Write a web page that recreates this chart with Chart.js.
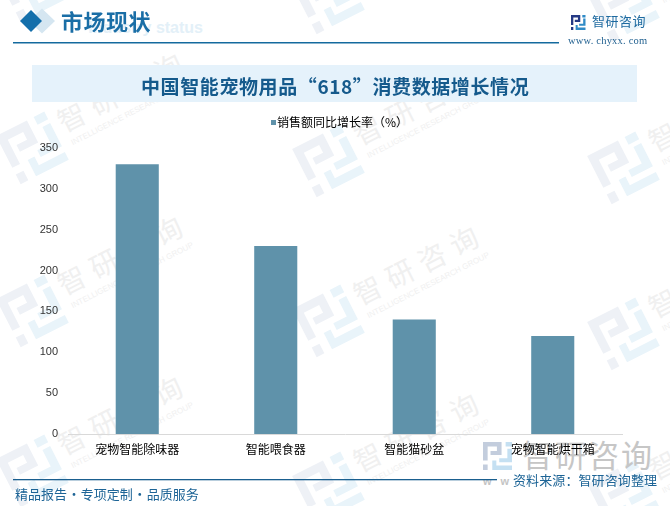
<!DOCTYPE html>
<html lang="zh"><head><meta charset="utf-8">
<script src="https://cdn.jsdelivr.net/npm/chart.js@4"></script>
<style>
html,body{margin:0;padding:0;background:#fff;}
#page{position:relative;width:670px;height:506px;overflow:hidden;background:#fff;font-family:"Noto Sans CJK SC",sans-serif;}
#page>*{position:absolute;}
#bg{left:0;top:0;}
#c{left:0;top:0;}
.t{white-space:nowrap;line-height:1;}
</style></head><body>
<div id="page">
<svg id="bg" width="670" height="506" xmlns="http://www.w3.org/2000/svg">
<defs>
<g id="logoA"><path d="M0 0H64V46H26V32H48V16H16V66H0ZM0 80H16V100H0Z"/></g>
<g id="logoB"><path d="M78 0H100V16H78ZM84 24H100V72H56V58H84ZM32 66H46V84H100V100H32Z"/></g>
</defs>
<g id="wm"></g>
<text x="203" y="33" text-anchor="end" font-family="Liberation Sans" font-weight="bold" font-size="16" fill="#e3f0f8">Industry status</text>
<path d="M42 8.500L55 21 42 33.500 29 21Z" fill="#d5e6f1"/>
<path d="M31 10L42 21 31 32 20 21Z" fill="#146fab"/>
<rect x="13" y="42" width="546" height="1.500" fill="#146a9e"/>
<rect x="32" y="65" width="605" height="37" fill="#e5f2fb"/>
<g transform="translate(571 15) scale(.145 .15)"><use href="#logoA" fill="#253a85"/><use href="#logoB" fill="#2f8ac6"/></g>
<g transform="translate(483 442) scale(.29 .28)"><use href="#logoA" fill="#c3cddd"/><use href="#logoB" fill="#c5e0f2"/></g>
<text x="522" y="467" font-family="Noto Sans CJK SC" font-size="31" letter-spacing="2" fill="#c6c6c6">智研咨询</text>
<text x="483" y="485" font-family="Liberation Sans" font-weight="bold" font-size="11" letter-spacing="3" fill="#c4c4c4">w w</text>
<rect x="13" y="479" width="484" height="1.300" fill="#1a5f8f"/>
</svg>
<canvas id="c" width="670" height="506"></canvas>
<div class="t" style="left:61px;top:9px;font-size:22px;font-weight:700;color:#1a6ea6;letter-spacing:.5px;">市场现状</div>
<div class="t" style="left:141px;top:76px;font-size:19px;font-weight:700;color:#155a8c;letter-spacing:.6px;">中国智能宠物用品“618”消费数据增长情况</div>
<div class="t" style="left:592px;top:14px;font-size:13px;color:#1e6aa0;letter-spacing:.5px;">智研咨询</div>
<div class="t" style="left:568px;top:36px;font-family:'Liberation Serif',serif;font-size:10.500px;color:#1f5f8f;letter-spacing:.2px;">www. chyxx. com</div>
<div class="t" style="left:15px;top:487px;font-size:13px;color:#1d6496;word-spacing:-2.5px;">精品报告 · 专项定制 · 品质服务</div>
<div class="t" style="left:513px;top:473px;font-size:13px;color:#1d6496;letter-spacing:.1px;">资料来源：智研咨询整理</div>
</div>
<script>
const categories = ["宠物智能除味器", "智能喂食器", "智能猫砂盆", "宠物智能烘干箱"];
const seriesName = "销售额同比增长率（%）";
const growthValues = [330, 230, 140, 120];
const yTicks = [0, 50, 100, 150, 200, 250, 300, 350];

const tileOrigins = [[32,-15],[328,-3],[623,5],[32,147],[328,160],[623,167],[32,310],[328,320],[623,333],[32,470],[328,487],[623,495]];
document.getElementById("wm").innerHTML = tileOrigins.map(([x,y])=>`<g transform="translate(${x} ${y}) rotate(-27)">
<g transform="translate(-27 -26) scale(.54)"><use href="#logoA" fill="#eef1f6"/><use href="#logoB" fill="#e9f4fa"/></g>
<text x="35" y="2" font-family="Noto Sans CJK SC" font-size="28" letter-spacing="8" fill="#f0f0f0">智研咨询</text>
<text x="37" y="17" font-family="Liberation Sans" font-size="8" fill="#f0f0f0">INTELLIGENCE RESEARCH GROUP</text>
</g>`).join("");

const barColor = "#5f92aa";
const legendSquare = {
  id: "legendSquare",
  afterLayout(chart){ const l = chart.legend; l.left += 28; l.right += 28; l.top -= 10; l.bottom -= 10; },
  afterDraw(chart){
    const hb = chart.legend.legendHitBoxes[0];
    const ctx = chart.ctx;
    ctx.save(); ctx.fillStyle = barColor;
    ctx.fillRect(Math.round(hb.left) + 1, Math.round(hb.top + hb.height/2 - 2.5), 5, 5);
    ctx.restore();
  }
};
document.fonts.load('12px "Noto Sans CJK SC"').finally(()=>{
new Chart(document.getElementById("c"), {
  type: "bar",
  data: { labels: categories, datasets: [{ label: seriesName, data: growthValues, backgroundColor: barColor,
    categoryPercentage: 1, barPercentage: 0.311 }]},
  options: {
    responsive: false, animation: false,
    layout: { padding: { top: 116, right: 48, left: 0, bottom: 0 } },
    plugins: {
      tooltip: { enabled: false },
      legend: { position: "top", labels: { boxWidth: 1, boxHeight: 6, padding: 10, color: "#000",
        font: { family: "Noto Sans CJK SC", size: 12 },
        generateLabels: c => [{ text: seriesName, fillStyle: "rgba(0,0,0,0)", strokeStyle: "rgba(0,0,0,0)", lineWidth: 0, datasetIndex: 0 }] } }
    },
    scales: {
      x: { grid: { display: false, drawTicks: false }, border: { color: "#d9d9d9", width: 1 },
        ticks: { color: "#000", font: { family: "Noto Sans CJK SC", size: 12 }, padding: 8, maxRotation: 0, autoSkip: false },
        afterFit(s){ s.height = 72; } },
      y: { min: 0, max: 350, afterBuildTicks(s){ s.ticks = yTicks.map(v=>({value:v})); },
        grid: { display: false, drawTicks: false }, border: { display: false },
        ticks: { color: "#333", font: { family: "Liberation Sans", size: 11 }, padding: 10 },
        afterFit(s){ s.width = 68; } }
    }
  },
  plugins: [legendSquare]
});
});
</script>
</body></html>
